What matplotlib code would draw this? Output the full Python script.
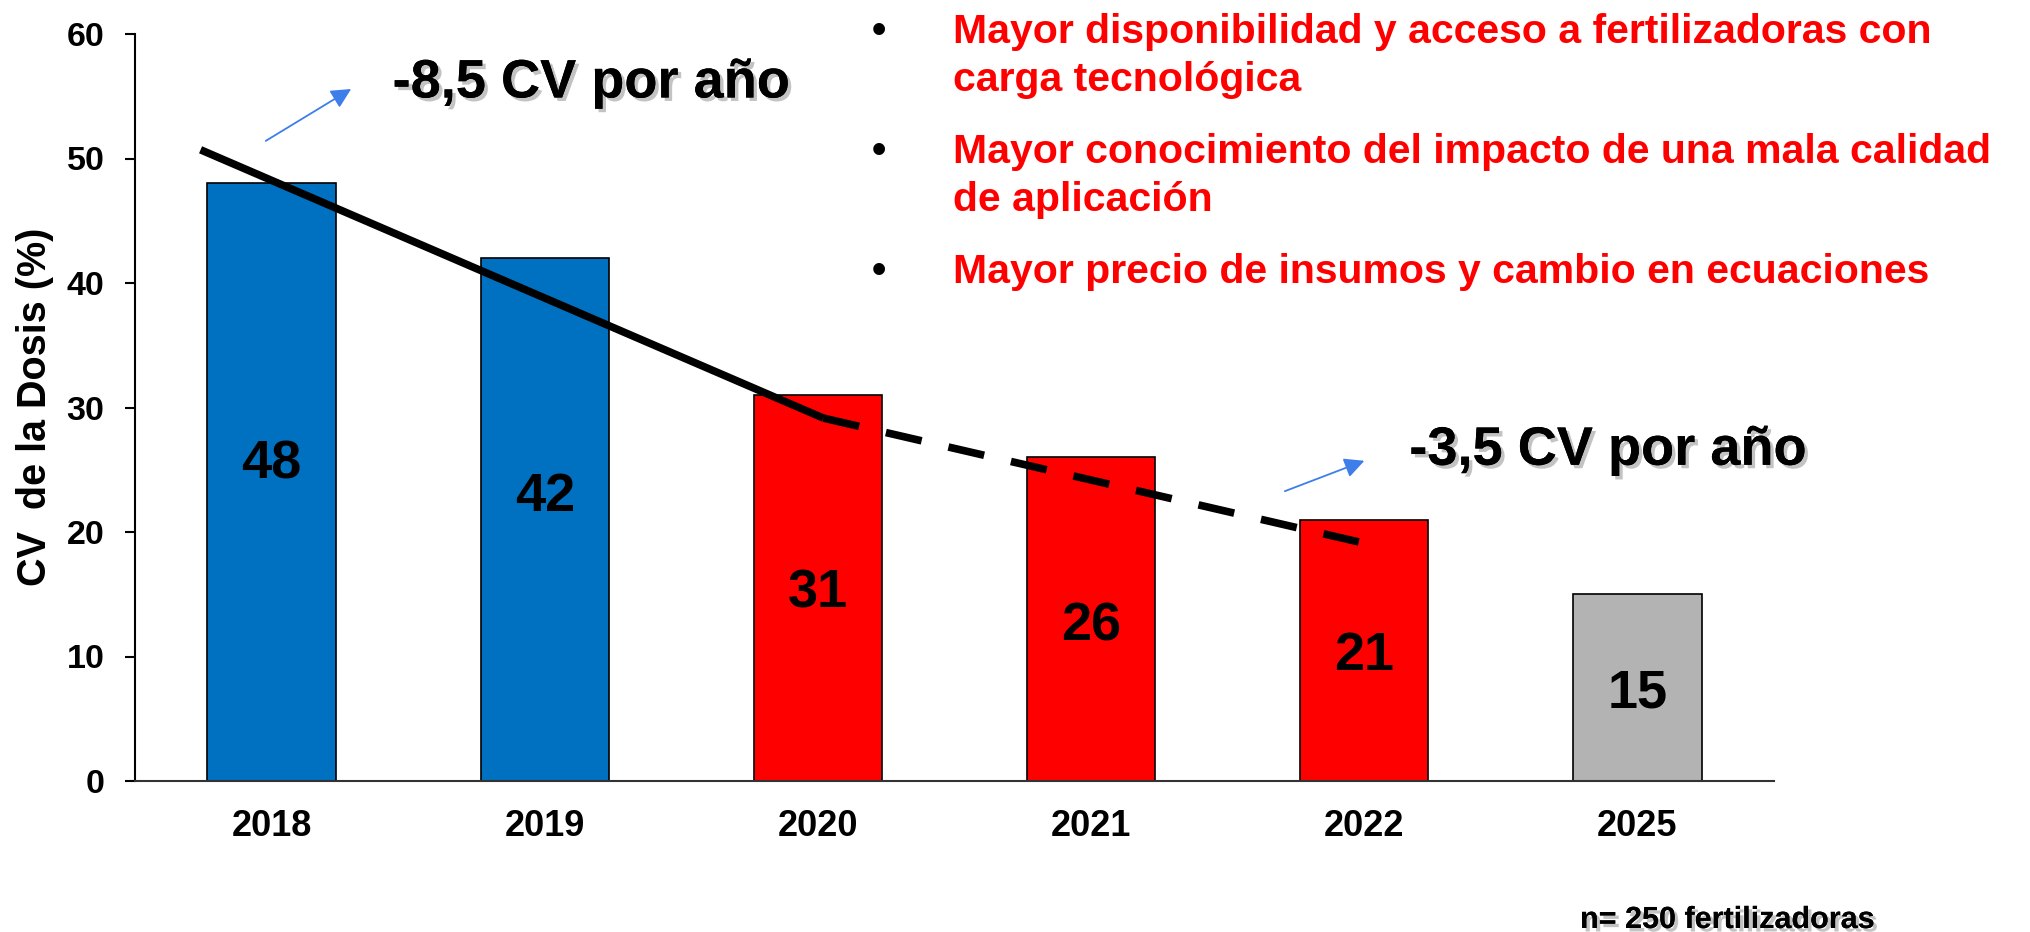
import matplotlib
matplotlib.use("Agg")
import matplotlib.pyplot as plt
import matplotlib.patheffects as pe

plt.rcParams["font.family"] = ["Liberation Sans", "DejaVu Sans"]
plt.rcParams["font.weight"] = "bold"

years = ["2018", "2019", "2020", "2021", "2022", "2025"]
cv = [48, 42, 31, 26, 21, 15]
colors = ["#0070C0", "#0070C0", "#FF0000", "#FF0000", "#FF0000", "#B3B3B3"]

# trend lines (x in category index units)
trend1_x = [-0.26, 2.02]
trend1_y = [50.7, 29.15]
trend2_x = [2.02, 3.98]
trend2_y = [29.15, 19.2]

label1 = "-8,5 CV por año"
label2 = "-3,5 CV por año"
bullets = [
    ["Mayor disponibilidad y acceso a fertilizadoras con", "carga tecnológica"],
    ["Mayor conocimiento del impacto de una mala calidad", "de aplicación"],
    ["Mayor precio de insumos y cambio en ecuaciones"],
]
note = "n= 250 fertilizadoras"
ylabel = "CV  de la Dosis (%)"

W, H = 2031, 932
fig = plt.figure(figsize=(W / 100, H / 100), dpi=100)
ax = fig.add_axes([135 / W, 1 - 781 / H, (1774 - 135) / W, (781 - 34) / H])

x = list(range(len(years)))
ax.bar(x, cv, width=0.47, color=colors, edgecolor="black", linewidth=1.2, zorder=2)

# baselines of the value labels inside the bars (hand placed in the original)
label_base = [24.3, 21.7, 13.9, 11.3, 8.9, 5.9]
for i, v in enumerate(cv):
    ax.text(i, label_base[i], str(v), ha="center", va="baseline", fontsize=39,
            fontweight="bold", color="black", zorder=4)

ax.plot(trend1_x, trend1_y, color="black", lw=5.5, solid_capstyle="butt", zorder=3)
ax.plot(trend2_x, trend2_y, color="black", lw=5.5, linestyle=(0, (4.8, 3.6)),
        dash_capstyle="butt", zorder=3)

shadow = [pe.withSimplePatchShadow(offset=(2.5, -2.5), shadow_rgbFace="#888888", alpha=0.5),
          pe.Normal()]
arrow = dict(arrowstyle="-|>", color="#3D7EEA", lw=1.3, mutation_scale=30)
ax.annotate("", xy=(0.30, 55.7), xytext=(-0.03, 51.3), arrowprops=arrow, annotation_clip=False)
ax.annotate("", xy=(4.01, 25.8), xytext=(3.70, 23.2), arrowprops=arrow, annotation_clip=False)
ax.text(0.443, 54.9, label1, fontsize=39, fontweight="bold", ha="left", va="baseline",
        path_effects=shadow, clip_on=False)
ax.text(4.165, 25.4, label2, fontsize=39, fontweight="bold", ha="left", va="baseline",
        path_effects=shadow, clip_on=False)

ax.set_xlim(-0.5, len(years) - 0.5)
ax.set_ylim(0, 60)
ax.set_yticks(range(0, 61, 10))
ax.set_xticks(x)
ax.set_xticklabels(years)
ax.spines["top"].set_visible(False)
ax.spines["right"].set_visible(False)
ax.spines["left"].set_linewidth(1.5)
ax.spines["bottom"].set_linewidth(1.5)
ax.spines["bottom"].set_color("#333333")
ax.tick_params(axis="y", length=7, width=1.5, pad=15, labelsize=24.5)
ax.tick_params(axis="x", length=0, pad=20, labelsize=26)
for t in ax.get_xticklabels() + ax.get_yticklabels():
    t.set_fontweight("bold")

fig.text(35 / W, 1 - 407 / H, ylabel, rotation=90, ha="center", va="center",
         fontsize=28.5, fontweight="bold")

# bullet list on the right
base = 43
for item in bullets:
    fig.text(872 / W, 1 - base / H, "•", fontsize=29.5, color="black",
             ha="left", va="baseline")
    for j, line in enumerate(item):
        fig.text(953 / W, 1 - (base + 48 * j) / H, line, fontsize=29.5,
                 fontweight="bold", color="#FF0000", ha="left", va="baseline")
    base += 48 * (len(item) - 1) + 72

fig.text(1580 / W, 1 - 928 / H, note, fontsize=22, fontweight="bold",
         ha="left", va="baseline", path_effects=shadow)

fig.savefig("out.png", dpi=100)
